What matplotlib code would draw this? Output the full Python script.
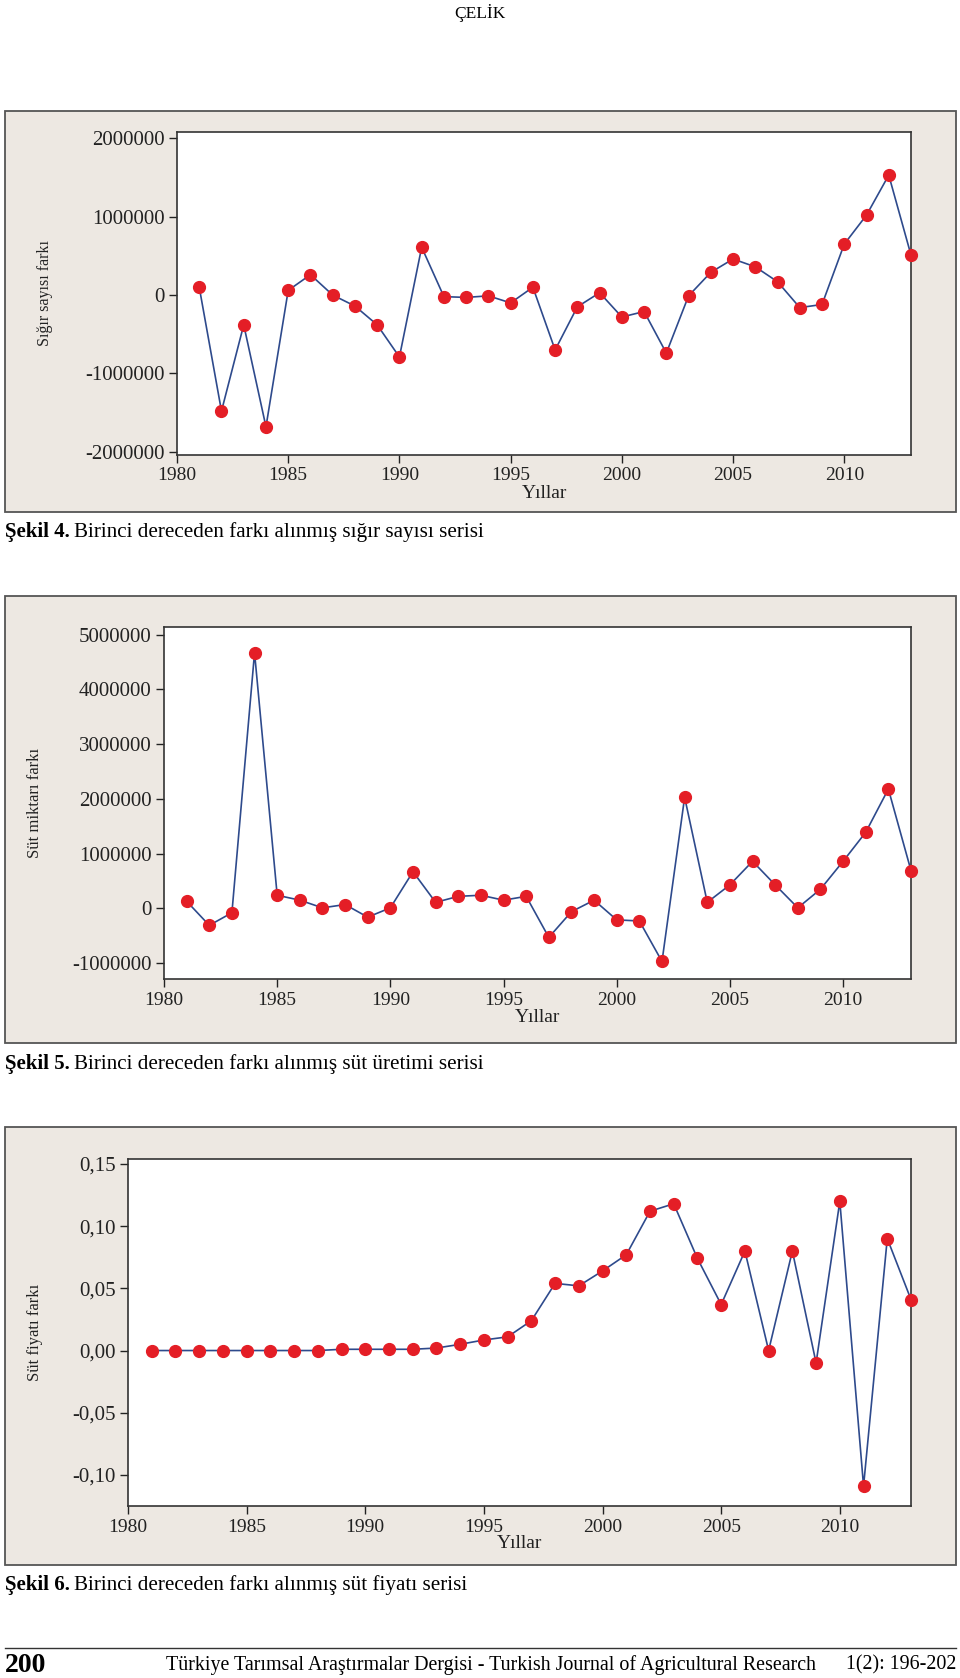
import numpy as np
import matplotlib.pyplot as plt
from matplotlib.patches import Rectangle
from matplotlib.lines import Line2D
from matplotlib.ticker import FuncFormatter

plt.rcParams['font.family'] = ['Liberation Serif', 'DejaVu Serif']

# data
# ---------------------------------------------------------------------------------------
years = list(range(1981, 2014))

sigir_farki = [0.10, -1.48, -0.38, -1.68, 0.06, 0.26, 0.00, -0.14, -0.38, -0.79,
               0.61, -0.02, -0.03, -0.01, -0.10, 0.10, -0.70, -0.15, 0.03, -0.28,
               -0.21, -0.74, -0.01, 0.29, 0.46, 0.36, 0.17, -0.16, -0.12, 0.65,
               1.02, 1.53, 0.51]
sigir_farki = [v * 1e6 for v in sigir_farki]

sut_miktari_farki = [0.13, -0.31, -0.08, 4.67, 0.24, 0.15, 0.01, 0.07, -0.16, 0.01,
                     0.67, 0.11, 0.22, 0.24, 0.15, 0.22, -0.53, -0.06, 0.15, -0.21,
                     -0.23, -0.97, 2.03, 0.11, 0.43, 0.86, 0.43, 0.01, 0.35, 0.86,
                     1.39, 2.18, 0.69]
sut_miktari_farki = [v * 1e6 for v in sut_miktari_farki]

sut_fiyati_farki = [0.000, 0.000, 0.000, 0.000, 0.000, 0.000, 0.000, 0.000, 0.001, 0.001,
                    0.001, 0.001, 0.002, 0.005, 0.0085, 0.011, 0.024, 0.054, 0.052, 0.064,
                    0.077, 0.112, 0.118, 0.074, 0.037, 0.080, 0.000, 0.080, -0.010, 0.120,
                    -0.109, 0.090, 0.041]

x_ticks = [1980, 1985, 1990, 1995, 2000, 2005, 2010]
ticks1 = [-2000000, -1000000, 0, 1000000, 2000000]
ticks2 = [-1000000, 0, 1000000, 2000000, 3000000, 4000000, 5000000]
ticks3 = [-0.10, -0.05, 0.00, 0.05, 0.10, 0.15]

# layout helpers (pixels -> figure fraction)
# ---------------------------------------------------------------------------------------
W, H = 960, 1678
fig = plt.figure(figsize=(W / 100, H / 100), dpi=100)
fig.patch.set_facecolor('white')

PANEL = '#ede8e2'
LINE = '#2e4a8c'
DOT = '#e41e26'


def px_rect(l, t, r, b):
    return [l / W, 1 - b / H, (r - l) / W, (b - t) / H]


def panel(l, t, r, b):
    x, y, w, h = px_rect(l, t, r, b)
    fig.add_artist(Rectangle((x, y), w, h, transform=fig.transFigure,
                             facecolor=PANEL, edgecolor='#555555', lw=1.3, zorder=0))


def chart(box, yvals, yticks, ylim, ylabel, lab_x, lab_size, fmt=None):
    ax = fig.add_axes(px_rect(*box))
    ax.set_facecolor('white')
    ax.plot(years, yvals, '-', color=LINE, lw=1.2, zorder=2, clip_on=False)
    ax.plot(years, yvals, 'o', color=DOT, ms=8.5, mec=DOT, zorder=3, clip_on=False)
    ax.set_xlim(1980, 2013)
    ax.set_ylim(*ylim)
    ax.set_xticks(x_ticks)
    ax.set_yticks(yticks)
    if fmt is not None:
        ax.yaxis.set_major_formatter(FuncFormatter(fmt))
    else:
        ax.yaxis.set_major_formatter(FuncFormatter(lambda v, p: '%d' % v))
    ax.tick_params(axis='both', direction='out', length=6, width=1,
                   colors='#222222', pad=3)
    ax.tick_params(axis='x', labelsize=14)
    ax.tick_params(axis='y', labelsize=15)
    ax.tick_params(top=False, right=False)
    for s in ax.spines.values():
        s.set_color('#333333')
        s.set_linewidth(1.2)
    ax.set_xlabel('Yıllar', fontsize=14, color='#222222', labelpad=0)
    ax.set_ylabel(ylabel, fontsize=lab_size, color='#222222')
    ax.yaxis.set_label_coords(lab_x, 0.5)
    return ax


def caption(y, num, rest):
    fig.text(5 / W, 1 - y / H, num, fontsize=15, fontweight='bold', va='center')
    fig.text(74 / W, 1 - y / H, rest, fontsize=15.2, va='center')


# header
fig.text(0.5, 1 - 13 / H, 'ÇELİK', ha='center', va='center', fontsize=12.5)

# chart 1
panel(5, 111, 956, 512)
chart((177, 132, 911, 455), sigir_farki, ticks1, (-2.04e6, 2.08e6),
      'Sığır sayısı farkı', (53 - 177) / (911 - 177), 11.5)
caption(532, 'Şekil 4.', 'Birinci dereceden farkı alınmış sığır sayısı serisi')

# chart 2
panel(5, 596, 956, 1043)
chart((164, 627, 911, 979), sut_miktari_farki, ticks2, (-1.29e6, 5.14e6),
      'Süt miktarı farkı', (43 - 164) / (911 - 164), 12)
caption(1064, 'Şekil 5.', 'Birinci dereceden farkı alınmış süt üretimi serisi')

# chart 3
panel(5, 1127, 956, 1565)
chart((128, 1159, 911, 1506), sut_fiyati_farki, ticks3, (-0.125, 0.154),
      'Süt fiyatı farkı', (43 - 128) / (911 - 128), 12,
      fmt=lambda v, p: ('%.2f' % v).replace('.', ','))
caption(1585, 'Şekil 6.', 'Birinci dereceden farkı alınmış süt fiyatı serisi')

# footer
fig.add_artist(Line2D([5 / W, 956 / W], [1 - 1648 / H, 1 - 1648 / H],
                      transform=fig.transFigure, color='#333333', lw=1))
fig.text(5 / W, 1 - 1665 / H, '200', fontsize=20, fontweight='bold', va='center')
fig.text(166 / W, 1 - 1665 / H,
         'Türkiye Tarımsal Araştırmalar Dergisi - Turkish Journal of Agricultural Research',
         fontsize=14.4, va='center')
fig.text(956 / W, 1 - 1665 / H, '1(2): 196-202', fontsize=14.4, va='center', ha='right')

fig.savefig('out.png', dpi=100)
